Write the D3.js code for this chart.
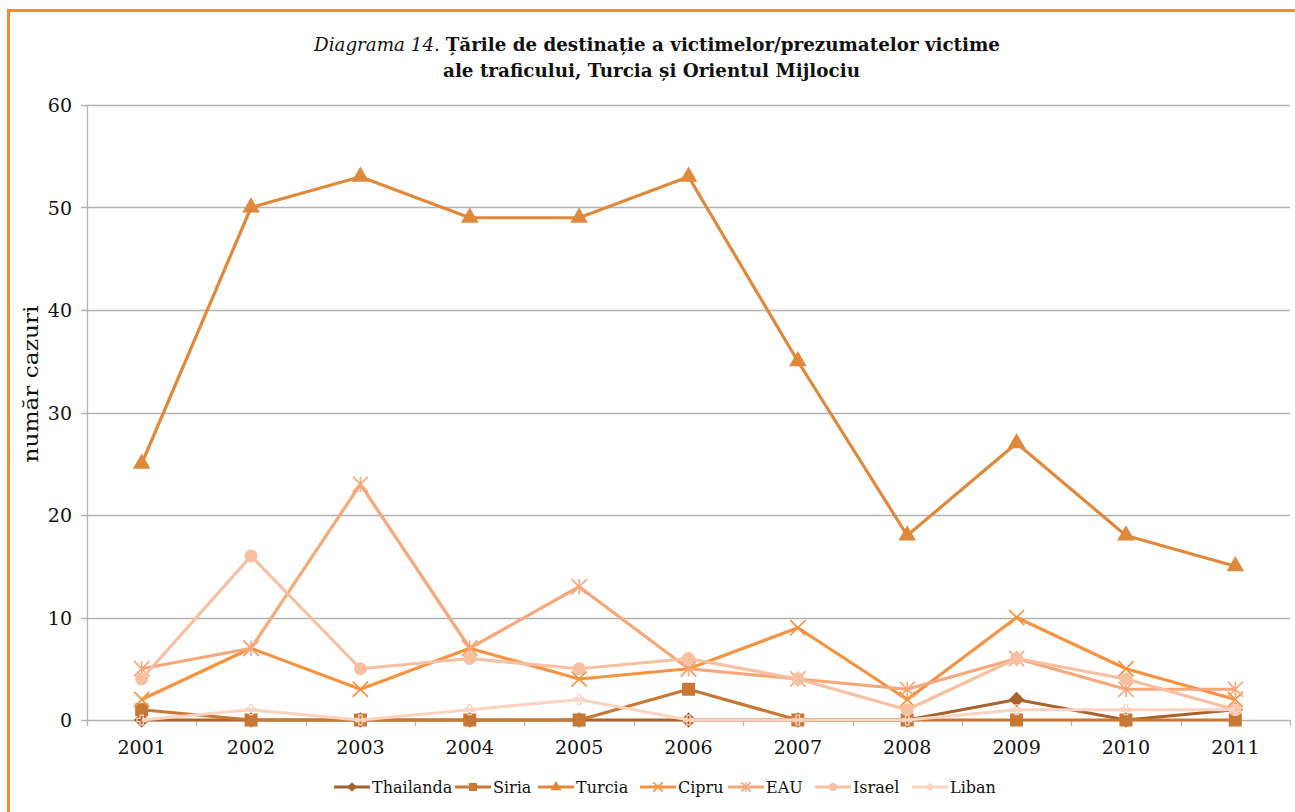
<!DOCTYPE html>
<html>
<head>
<meta charset="utf-8">
<script src="https://cdn.jsdelivr.net/npm/d3@7"></script>
<style>
  body { margin: 0; background: #fff; }
  svg { display: block; font-family: "DejaVu Serif", "Liberation Serif", serif; }
</style>
</head>
<body>
<svg id="chart" width="1295" height="812"></svg>
<script>
"use strict";

// years on the category axis
const years = ["2001", "2002", "2003", "2004", "2005", "2006", "2007", "2008", "2009", "2010", "2011"];

// cases per destination country
const thailanda = [0, 0, 0, 0, 0, 0, 0, 0, 2, 0, 1];
const siria     = [1, 0, 0, 0, 0, 3, 0, 0, 0, 0, 0];
const turcia    = [25, 50, 53, 49, 49, 53, 35, 18, 27, 18, 15];
const cipru     = [2, 7, 3, 7, 4, 5, 9, 2, 10, 5, 2];
const eau       = [5, 7, 23, 7, 13, 5, 4, 3, 6, 3, 3];
const israel    = [4, 16, 5, 6, 5, 6, 4, 1, 6, 4, 1];
const liban     = [0, 1, 0, 1, 2, 0, 0, 0, 1, 1, 1];

const yTicks = [0, 10, 20, 30, 40, 50, 60];

const series = [
  { name: "Thailanda", values: thailanda, color: "#a8622b", marker: "diamond" },
  { name: "Siria",     values: siria,     color: "#c97734", marker: "square" },
  { name: "Turcia",    values: turcia,    color: "#e0893b", marker: "triangle" },
  { name: "Cipru",     values: cipru,     color: "#f7923f", marker: "x" },
  { name: "EAU",       values: eau,       color: "#f7a77a", marker: "star" },
  { name: "Israel",    values: israel,    color: "#f8bfa0", marker: "circle" },
  { name: "Liban",     values: liban,     color: "#fad4c0", marker: "plus" }
];

const svg = d3.select("#chart");

// outer frame (only top and left edges are inside the picture)
svg.append("path")
  .attr("d", "M8.5,1000 L8.5,10.5 L1400,10.5")
  .attr("fill", "none")
  .attr("stroke", "#f58a2c")
  .attr("stroke-width", 3);

const margin = { left: 87, top: 105, right: 1290, bottom: 720 };

const x = d3.scaleBand()
  .domain(years)
  .range([margin.left, margin.right]);

const y = d3.scaleLinear()
  .domain([0, 60])
  .range([margin.bottom, margin.top]);

const cx = d => x(d) + x.bandwidth() / 2;

// horizontal grid lines
svg.append("g")
  .selectAll("line")
  .data(yTicks)
  .enter()
  .append("line")
  .attr("x1", margin.left - 6)
  .attr("x2", margin.right)
  .attr("y1", d => Math.round(y(d)) + 0.5)
  .attr("y2", d => Math.round(y(d)) + 0.5)
  .attr("stroke", "#b3b3b3")
  .attr("stroke-width", 1.3);

// y axis line
svg.append("line")
  .attr("x1", margin.left + 0.5).attr("x2", margin.left + 0.5)
  .attr("y1", margin.top).attr("y2", margin.bottom)
  .attr("stroke", "#b3b3b3")
  .attr("stroke-width", 1.3);

// y tick labels
svg.append("g")
  .selectAll("text")
  .data(yTicks)
  .enter()
  .append("text")
  .attr("x", 72)
  .attr("y", d => y(d) + 7)
  .attr("text-anchor", "end")
  .attr("font-size", 19)
  .attr("fill", "#111")
  .text(d => d);

// x tick marks at category boundaries
const bounds = years.map(d => x(d)).concat([margin.right]);
svg.append("g")
  .selectAll("line")
  .data(bounds)
  .enter()
  .append("line")
  .attr("x1", d => Math.round(d) + 0.5)
  .attr("x2", d => Math.round(d) + 0.5)
  .attr("y1", margin.bottom)
  .attr("y2", margin.bottom + 6)
  .attr("stroke", "#b3b3b3")
  .attr("stroke-width", 1.3);

// x tick labels
svg.append("g")
  .selectAll("text")
  .data(years)
  .enter()
  .append("text")
  .attr("x", cx)
  .attr("y", 754)
  .attr("text-anchor", "middle")
  .attr("font-size", 19)
  .attr("fill", "#111")
  .text(d => d);

// y axis title
svg.append("text")
  .attr("transform", "translate(38,384) rotate(-90)")
  .attr("text-anchor", "middle")
  .attr("font-size", 20)
  .attr("textLength", 157)
  .attr("lengthAdjust", "spacingAndGlyphs")
  .attr("fill", "#111")
  .text("număr cazuri");

// title
const title = svg.append("g").attr("font-size", 19).attr("fill", "#111");
const t1 = title.append("text")
  .attr("x", 314).attr("y", 51)
  .attr("textLength", 686)
  .attr("lengthAdjust", "spacingAndGlyphs");
t1.append("tspan").attr("font-style", "italic").text("Diagrama 14. ");
t1.append("tspan").attr("font-weight", "bold").text("Țările de destinație a victimelor/prezumatelor victime");
title.append("text")
  .attr("x", 443).attr("y", 77)
  .attr("textLength", 417)
  .attr("lengthAdjust", "spacingAndGlyphs")
  .attr("font-weight", "bold")
  .text("ale traficului, Turcia și Orientul Mijlociu");

// marker drawing helper
function drawMarker(sel, type, color, s) {
  if (type === "diamond") {
    sel.append("path").attr("d", d3.symbol(d3.symbolDiamond2, s * s * 0.9)).attr("fill", color);
  } else if (type === "square") {
    sel.append("rect").attr("x", -s / 2).attr("y", -s / 2).attr("width", s).attr("height", s).attr("fill", color);
  } else if (type === "triangle") {
    sel.append("path").attr("d", d3.symbol(d3.symbolTriangle, s * s * 0.8)).attr("fill", color);
  } else if (type === "circle") {
    sel.append("circle").attr("r", s / 2).attr("fill", color);
  } else if (type === "x") {
    sel.append("path").attr("d", d3.symbol(d3.symbolX, s * s * 0.9))
      .attr("fill", "none").attr("stroke", color).attr("stroke-width", 1.6);
  } else if (type === "star") {
    sel.append("path").attr("d", d3.symbol(d3.symbolX, s * s * 0.9))
      .attr("fill", "none").attr("stroke", color).attr("stroke-width", 1.6);
    sel.append("line").attr("x1", 0).attr("x2", 0).attr("y1", -s * 0.6).attr("y2", s * 0.6)
      .attr("stroke", color).attr("stroke-width", 1.6);
  } else if (type === "plus") {
    sel.append("path").attr("d", d3.symbol(d3.symbolCross, s * s * 0.3))
      .attr("fill", "none").attr("stroke", color).attr("stroke-width", 1.3);
  }
}

const line = d3.line()
  .x((d, i) => cx(years[i]))
  .y(d => y(d));

const plot = svg.append("g");

// series drawn in order, later ones on top
series.forEach(s => {
  const g = plot.append("g");
  g.append("path")
    .attr("d", line(s.values))
    .attr("fill", "none")
    .attr("stroke", s.color)
    .attr("stroke-width", 3.2)
    .attr("stroke-linejoin", "round");
  g.selectAll("g.m")
    .data(s.values)
    .enter()
    .append("g")
    .classed("m", true)
    .attr("transform", (d, i) => "translate(" + cx(years[i]) + "," + y(d) + ")")
    .each(function() { drawMarker(d3.select(this), s.marker, s.color, 13); });
});

// legend
const legendX = [334, 455, 538, 640, 728, 815, 912];
const legend = svg.append("g");
series.forEach((s, i) => {
  const lg = legend.append("g").attr("transform", "translate(" + legendX[i] + ",787)");
  lg.append("line")
    .attr("x1", 0).attr("x2", 36)
    .attr("stroke", s.color).attr("stroke-width", 3);
  drawMarker(lg.append("g").attr("transform", "translate(18,0)"), s.marker, s.color, 8);
  lg.append("text")
    .attr("x", 38).attr("y", 6)
    .attr("font-size", 16)
    .attr("fill", "#111")
    .text(s.name);
});
</script>
</body>
</html>
